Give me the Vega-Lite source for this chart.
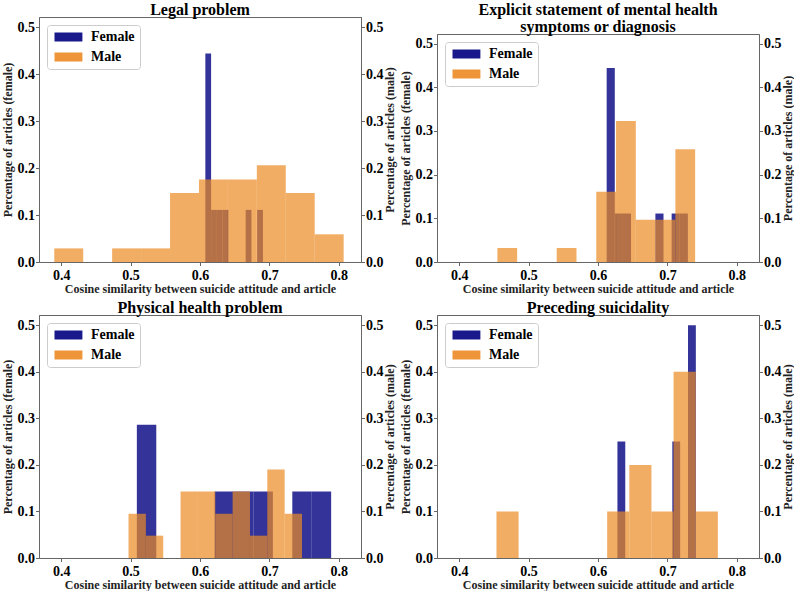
{
  "$schema": "https://vega.github.io/schema/vega-lite/v6.json",
  "padding": {"left": 0, "top": 0, "right": 0, "bottom": 0},
  "background": "white",
  "datasets": {
    "h": [
      {"panel": "legal", "sex": "Female", "x0": 0.6077, "x1": 0.6160, "pct": 0.444},
      {"panel": "legal", "sex": "Female", "x0": 0.6160, "x1": 0.6243, "pct": 0.111},
      {"panel": "legal", "sex": "Female", "x0": 0.6243, "x1": 0.6326, "pct": 0.111},
      {"panel": "legal", "sex": "Female", "x0": 0.6326, "x1": 0.6409, "pct": 0.111},
      {"panel": "legal", "sex": "Female", "x0": 0.6658, "x1": 0.6741, "pct": 0.111},
      {"panel": "legal", "sex": "Female", "x0": 0.6824, "x1": 0.6907, "pct": 0.111},
      {"panel": "legal", "sex": "Male", "x0": 0.3900, "x1": 0.4317, "pct": 0.029},
      {"panel": "legal", "sex": "Male", "x0": 0.4734, "x1": 0.5151, "pct": 0.029},
      {"panel": "legal", "sex": "Male", "x0": 0.5151, "x1": 0.5568, "pct": 0.029},
      {"panel": "legal", "sex": "Male", "x0": 0.5568, "x1": 0.5985, "pct": 0.147},
      {"panel": "legal", "sex": "Male", "x0": 0.5985, "x1": 0.6402, "pct": 0.176},
      {"panel": "legal", "sex": "Male", "x0": 0.6402, "x1": 0.6819, "pct": 0.176},
      {"panel": "legal", "sex": "Male", "x0": 0.6819, "x1": 0.7236, "pct": 0.206},
      {"panel": "legal", "sex": "Male", "x0": 0.7236, "x1": 0.7653, "pct": 0.147},
      {"panel": "legal", "sex": "Male", "x0": 0.7653, "x1": 0.8070, "pct": 0.059},

      {"panel": "mental", "sex": "Female", "x0": 0.6125, "x1": 0.6242, "pct": 0.444},
      {"panel": "mental", "sex": "Female", "x0": 0.6242, "x1": 0.6359, "pct": 0.111},
      {"panel": "mental", "sex": "Female", "x0": 0.6359, "x1": 0.6476, "pct": 0.111},
      {"panel": "mental", "sex": "Female", "x0": 0.6827, "x1": 0.6944, "pct": 0.111},
      {"panel": "mental", "sex": "Female", "x0": 0.7061, "x1": 0.7178, "pct": 0.111},
      {"panel": "mental", "sex": "Female", "x0": 0.7178, "x1": 0.7295, "pct": 0.111},
      {"panel": "mental", "sex": "Male", "x0": 0.4550, "x1": 0.4835, "pct": 0.032},
      {"panel": "mental", "sex": "Male", "x0": 0.5405, "x1": 0.5690, "pct": 0.032},
      {"panel": "mental", "sex": "Male", "x0": 0.5975, "x1": 0.6260, "pct": 0.161},
      {"panel": "mental", "sex": "Male", "x0": 0.6260, "x1": 0.6545, "pct": 0.323},
      {"panel": "mental", "sex": "Male", "x0": 0.6545, "x1": 0.6830, "pct": 0.097},
      {"panel": "mental", "sex": "Male", "x0": 0.6830, "x1": 0.7115, "pct": 0.097},
      {"panel": "mental", "sex": "Male", "x0": 0.7115, "x1": 0.7400, "pct": 0.258},

      {"panel": "physical", "sex": "Female", "x0": 0.509, "x1": 0.537, "pct": 0.286},
      {"panel": "physical", "sex": "Female", "x0": 0.621, "x1": 0.649, "pct": 0.143},
      {"panel": "physical", "sex": "Female", "x0": 0.649, "x1": 0.677, "pct": 0.143},
      {"panel": "physical", "sex": "Female", "x0": 0.677, "x1": 0.705, "pct": 0.143},
      {"panel": "physical", "sex": "Female", "x0": 0.733, "x1": 0.761, "pct": 0.143},
      {"panel": "physical", "sex": "Female", "x0": 0.761, "x1": 0.789, "pct": 0.143},
      {"panel": "physical", "sex": "Male", "x0": 0.497, "x1": 0.522, "pct": 0.095},
      {"panel": "physical", "sex": "Male", "x0": 0.522, "x1": 0.547, "pct": 0.048},
      {"panel": "physical", "sex": "Male", "x0": 0.572, "x1": 0.597, "pct": 0.143},
      {"panel": "physical", "sex": "Male", "x0": 0.597, "x1": 0.622, "pct": 0.143},
      {"panel": "physical", "sex": "Male", "x0": 0.622, "x1": 0.647, "pct": 0.095},
      {"panel": "physical", "sex": "Male", "x0": 0.647, "x1": 0.672, "pct": 0.143},
      {"panel": "physical", "sex": "Male", "x0": 0.672, "x1": 0.697, "pct": 0.048},
      {"panel": "physical", "sex": "Male", "x0": 0.697, "x1": 0.722, "pct": 0.190},
      {"panel": "physical", "sex": "Male", "x0": 0.722, "x1": 0.747, "pct": 0.095},

      {"panel": "preceding", "sex": "Female", "x0": 0.6280, "x1": 0.6393, "pct": 0.25},
      {"panel": "preceding", "sex": "Female", "x0": 0.7071, "x1": 0.7184, "pct": 0.25},
      {"panel": "preceding", "sex": "Female", "x0": 0.7297, "x1": 0.7410, "pct": 0.5},
      {"panel": "preceding", "sex": "Male", "x0": 0.4537, "x1": 0.4856, "pct": 0.1},
      {"panel": "preceding", "sex": "Male", "x0": 0.6132, "x1": 0.6451, "pct": 0.1},
      {"panel": "preceding", "sex": "Male", "x0": 0.6451, "x1": 0.6770, "pct": 0.2},
      {"panel": "preceding", "sex": "Male", "x0": 0.6770, "x1": 0.7089, "pct": 0.1},
      {"panel": "preceding", "sex": "Male", "x0": 0.7089, "x1": 0.7408, "pct": 0.4},
      {"panel": "preceding", "sex": "Male", "x0": 0.7408, "x1": 0.7727, "pct": 0.1}
    ]
  },
  "config": {
    "view": {"stroke": "#666666", "strokeWidth": 1},
    "axis": {
      "labelFont": "Liberation Serif", "labelFontWeight": "bold", "labelFontSize": 14, "labelColor": "#000000",
      "titleFont": "Liberation Serif", "titleFontWeight": "bold", "titleFontSize": 12, "titleColor": "#222222",
      "domainColor": "#666666", "tickColor": "#666666", "tickSize": 3.5, "grid": false
    },
    "axisX": {"labelPadding": 3, "titlePadding": 1},
    "axisY": {"labelPadding": 1, "titlePadding": 3},
    "title": {"font": "Liberation Serif", "fontSize": 16, "fontWeight": "bold", "color": "#000000", "offset": -1, "anchor": "middle", "lineHeight": 17},
    "legend": {
      "orient": "top-left", "offset": 8, "title": null,
      "symbolType": "M-1,-1H5.2V1H-1Z", "symbolSize": 81, "symbolOpacity": 0.9, "symbolStrokeWidth": 0,
      "labelFont": "Liberation Serif", "labelFontWeight": "bold", "labelFontSize": 14, "labelColor": "#000000",
      "labelOffset": 25, "strokeColor": "#cccccc", "fillColor": "#ffffff", "padding": 5, "cornerRadius": 3, "rowPadding": 6
    }
  },
  "resolve": {"scale": {"color": "independent"}, "legend": {"color": "independent"}},
  "columns": 2,
  "align": "none",
  "spacing": {"row": 0, "column": 2},
  "concat": [
    {"data": {"values": []}, "mark": "point", "width": 1, "height": 1, "view": {"stroke": null}},
    {"data": {"values": []}, "mark": "point", "width": 1, "height": 1, "view": {"stroke": null}},
    {
      "spacing": 4,
      "resolve": {"scale": {"color": "independent"}, "legend": {"color": "independent"}},
      "vconcat": [
        {
          "title": {"text": "Legal problem"},
          "width": 322, "height": 245,
          "data": {"name": "h"},
          "transform": [{"filter": "datum.panel === 'legal'"}],
          "resolve": {"scale": {"y": "independent"}},
          "layer": [
            {
              "transform": [{"filter": "datum.sex === 'Female'"}],
              "mark": {"type": "bar", "opacity": 0.8},
              "encoding": {
                "x": {"field": "x0", "type": "quantitative", "scale": {"domain": [0.368, 0.832], "nice": false, "zero": false}, "axis": {"values": [0.4, 0.5, 0.6, 0.7, 0.8], "format": ".1f", "title": "Cosine similarity between suicide attitude and article"}},
                "x2": {"field": "x1"},
                "y": {"field": "pct", "type": "quantitative", "stack": null, "scale": {"domain": [0, 0.522], "nice": false}, "axis": {"orient": "left", "values": [0, 0.1, 0.2, 0.3, 0.4, 0.5], "format": ".1f", "title": "Percentage of articles (female)"}},
                "y2": {"datum": 0},
                "color": {"field": "sex", "type": "nominal", "scale": {"domain": ["Female", "Male"], "range": ["#000080", "#eb8a22"]}}
              }
            },
            {
              "transform": [{"filter": "datum.sex === 'Male'"}],
              "mark": {"type": "bar", "opacity": 0.7},
              "encoding": {
                "x": {"field": "x0", "type": "quantitative"},
                "x2": {"field": "x1"},
                "y": {"field": "pct", "type": "quantitative", "stack": null, "scale": {"domain": [0, 0.522], "nice": false}, "axis": {"orient": "right", "values": [0, 0.1, 0.2, 0.3, 0.4, 0.5], "format": ".1f", "title": "Percentage of articles (male)", "titleAngle": 270, "titleBaseline": "top", "titlePadding": 1}},
                "y2": {"datum": 0},
                "color": {"field": "sex", "type": "nominal", "scale": {"domain": ["Female", "Male"], "range": ["#000080", "#eb8a22"]}}
              }
            }
          ]
        },
        {
          "title": {"text": "Physical health problem"},
          "width": 322, "height": 243,
          "data": {"name": "h"},
          "transform": [{"filter": "datum.panel === 'physical'"}],
          "resolve": {"scale": {"y": "independent"}},
          "layer": [
            {
              "transform": [{"filter": "datum.sex === 'Female'"}],
              "mark": {"type": "bar", "opacity": 0.8},
              "encoding": {
                "x": {"field": "x0", "type": "quantitative", "scale": {"domain": [0.368, 0.832], "nice": false, "zero": false}, "axis": {"values": [0.4, 0.5, 0.6, 0.7, 0.8], "format": ".1f", "title": "Cosine similarity between suicide attitude and article"}},
                "x2": {"field": "x1"},
                "y": {"field": "pct", "type": "quantitative", "stack": null, "scale": {"domain": [0, 0.522], "nice": false}, "axis": {"orient": "left", "values": [0, 0.1, 0.2, 0.3, 0.4, 0.5], "format": ".1f", "title": "Percentage of articles (female)"}},
                "y2": {"datum": 0},
                "color": {"field": "sex", "type": "nominal", "scale": {"domain": ["Female", "Male"], "range": ["#000080", "#eb8a22"]}}
              }
            },
            {
              "transform": [{"filter": "datum.sex === 'Male'"}],
              "mark": {"type": "bar", "opacity": 0.7},
              "encoding": {
                "x": {"field": "x0", "type": "quantitative"},
                "x2": {"field": "x1"},
                "y": {"field": "pct", "type": "quantitative", "stack": null, "scale": {"domain": [0, 0.522], "nice": false}, "axis": {"orient": "right", "values": [0, 0.1, 0.2, 0.3, 0.4, 0.5], "format": ".1f", "title": "Percentage of articles (male)", "titleAngle": 270, "titleBaseline": "top", "titlePadding": 1}},
                "y2": {"datum": 0},
                "color": {"field": "sex", "type": "nominal", "scale": {"domain": ["Female", "Male"], "range": ["#000080", "#eb8a22"]}}
              }
            }
          ]
        }
      ]
    },
    {
      "spacing": 4,
      "resolve": {"scale": {"color": "independent"}, "legend": {"color": "independent"}},
      "vconcat": [
        {
          "title": {"text": ["Explicit statement of mental health", "symptoms or diagnosis"]},
          "width": 322, "height": 228,
          "data": {"name": "h"},
          "transform": [{"filter": "datum.panel === 'mental'"}],
          "resolve": {"scale": {"y": "independent"}},
          "layer": [
            {
              "transform": [{"filter": "datum.sex === 'Female'"}],
              "mark": {"type": "bar", "opacity": 0.8},
              "encoding": {
                "x": {"field": "x0", "type": "quantitative", "scale": {"domain": [0.368, 0.832], "nice": false, "zero": false}, "axis": {"values": [0.4, 0.5, 0.6, 0.7, 0.8], "format": ".1f", "title": "Cosine similarity between suicide attitude and article"}},
                "x2": {"field": "x1"},
                "y": {"field": "pct", "type": "quantitative", "stack": null, "scale": {"domain": [0, 0.522], "nice": false}, "axis": {"orient": "left", "values": [0, 0.1, 0.2, 0.3, 0.4, 0.5], "format": ".1f", "title": "Percentage of articles (female)"}},
                "y2": {"datum": 0},
                "color": {"field": "sex", "type": "nominal", "scale": {"domain": ["Female", "Male"], "range": ["#000080", "#eb8a22"]}}
              }
            },
            {
              "transform": [{"filter": "datum.sex === 'Male'"}],
              "mark": {"type": "bar", "opacity": 0.7},
              "encoding": {
                "x": {"field": "x0", "type": "quantitative"},
                "x2": {"field": "x1"},
                "y": {"field": "pct", "type": "quantitative", "stack": null, "scale": {"domain": [0, 0.522], "nice": false}, "axis": {"orient": "right", "values": [0, 0.1, 0.2, 0.3, 0.4, 0.5], "format": ".1f", "title": "Percentage of articles (male)", "titleAngle": 270, "titleBaseline": "top", "titlePadding": 1}},
                "y2": {"datum": 0},
                "color": {"field": "sex", "type": "nominal", "scale": {"domain": ["Female", "Male"], "range": ["#000080", "#eb8a22"]}}
              }
            }
          ]
        },
        {
          "title": {"text": "Preceding suicidality"},
          "width": 322, "height": 243,
          "data": {"name": "h"},
          "transform": [{"filter": "datum.panel === 'preceding'"}],
          "resolve": {"scale": {"y": "independent"}},
          "layer": [
            {
              "transform": [{"filter": "datum.sex === 'Female'"}],
              "mark": {"type": "bar", "opacity": 0.8},
              "encoding": {
                "x": {"field": "x0", "type": "quantitative", "scale": {"domain": [0.368, 0.832], "nice": false, "zero": false}, "axis": {"values": [0.4, 0.5, 0.6, 0.7, 0.8], "format": ".1f", "title": "Cosine similarity between suicide attitude and article"}},
                "x2": {"field": "x1"},
                "y": {"field": "pct", "type": "quantitative", "stack": null, "scale": {"domain": [0, 0.522], "nice": false}, "axis": {"orient": "left", "values": [0, 0.1, 0.2, 0.3, 0.4, 0.5], "format": ".1f", "title": "Percentage of articles (female)"}},
                "y2": {"datum": 0},
                "color": {"field": "sex", "type": "nominal", "scale": {"domain": ["Female", "Male"], "range": ["#000080", "#eb8a22"]}}
              }
            },
            {
              "transform": [{"filter": "datum.sex === 'Male'"}],
              "mark": {"type": "bar", "opacity": 0.7},
              "encoding": {
                "x": {"field": "x0", "type": "quantitative"},
                "x2": {"field": "x1"},
                "y": {"field": "pct", "type": "quantitative", "stack": null, "scale": {"domain": [0, 0.522], "nice": false}, "axis": {"orient": "right", "values": [0, 0.1, 0.2, 0.3, 0.4, 0.5], "format": ".1f", "title": "Percentage of articles (male)", "titleAngle": 270, "titleBaseline": "top", "titlePadding": 1}},
                "y2": {"datum": 0},
                "color": {"field": "sex", "type": "nominal", "scale": {"domain": ["Female", "Male"], "range": ["#000080", "#eb8a22"]}}
              }
            }
          ]
        }
      ]
    }
  ]
}
